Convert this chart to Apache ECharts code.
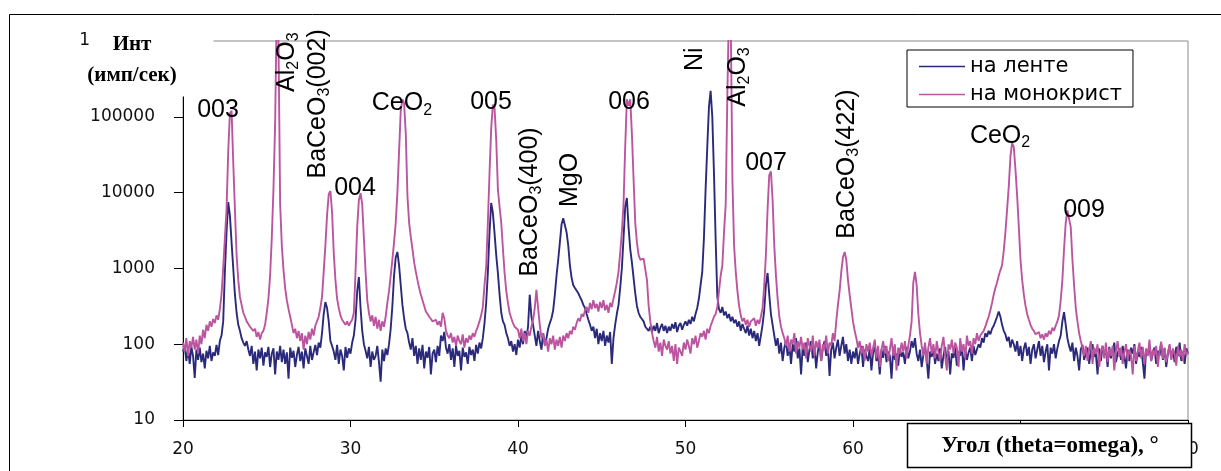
<!DOCTYPE html>
<html><head><meta charset="utf-8">
<script src="https://cdn.jsdelivr.net/npm/echarts@6/dist/echarts.min.js"></script>
<style>html,body{margin:0;padding:0;background:#fff}#c{width:1221px;height:471px}</style>
</head><body><div id="c"></div>
<script>
// Scan grid of the diffractometer (2theta, degrees)
const angleStart = 20;
const angleStep = 0.1;

const seriesNames = ['на ленте', 'на монокрист'];

// Intensity (counts/s), "на ленте", one value per 0.1 deg from 20.0 to 80.0
const tapeIntensity = [
  80, 95, 60, 88, 55, 92, 70, 36, 85, 62,
  90, 58, 75, 48, 82, 65, 95, 60, 78, 70,
  98, 72, 110, 130, 200, 900, 3000, 7500, 5000, 2200,
  1000, 450, 260, 180, 150, 120, 105, 95, 110, 85,
  70, 95, 55, 80, 45, 85, 65, 90, 52, 78,
  68, 92, 50, 75, 88, 40, 80, 62, 95, 58,
  85, 55, 78, 35, 90, 66, 82, 50, 72, 92,
  60, 80, 48, 88, 70, 55, 95, 62, 78, 98,
  72, 105, 90, 140, 250, 360, 300, 200, 110, 95,
  80, 62, 98, 55, 85, 70, 45, 92, 66, 88,
  75, 105, 130, 210, 500, 770, 300, 150, 100, 82,
  65, 92, 50, 80, 62, 70, 95, 58, 32, 85,
  60, 88, 72, 100, 160, 320, 800, 1400, 1650, 1100,
  600, 330, 220, 160, 140, 105, 85, 120, 70, 95,
  55, 88, 62, 98, 48, 80, 66, 92, 40, 75,
  85, 58, 95, 70, 130, 110, 145, 90, 75, 100,
  62, 88, 50, 95, 70, 82, 45, 90, 68, 78,
  55, 92, 72, 85, 60, 98, 75, 105, 88, 120,
  190, 350, 870, 3000, 7300, 5400, 2900, 1500, 870, 450,
  260, 200, 180, 140, 120, 95, 110, 80, 100, 72,
  115, 90, 130, 100, 150, 120, 170, 450, 230, 180,
  130, 95, 150, 110, 85, 140, 100, 120, 160, 190,
  220, 280, 450, 800, 1300, 2200, 3800, 4600, 4800, 3000,
  2000, 1100, 750, 600, 550, 520, 470, 420, 380, 330,
  300, 250, 210, 180, 150, 170, 120, 160, 100, 140,
  110, 150, 95, 130, 105, 145, 55, 120, 180, 250,
  330, 550, 1000, 2500, 6500, 8500, 3500, 1800, 1200, 750,
  470, 320, 260, 230, 240, 200, 170, 160, 150, 170,
  145, 175, 150, 190, 140, 165, 185, 150, 175, 140,
  170, 150, 185, 160, 195, 145, 175, 190, 155, 180,
  200, 175, 210, 185, 230, 200, 250, 300, 400, 600,
  900, 2500, 11000, 40000, 135000, 220000, 100000, 18000, 2400, 420,
  290, 260, 310, 240, 270, 220, 250, 200, 230, 190,
  210, 170, 200, 150, 185, 160, 140, 175, 130, 160,
  120, 150, 110, 140, 95, 130, 180, 280, 600, 870,
  450, 250, 180, 130, 95, 120, 75, 105, 60, 90,
  110, 70, 95, 55, 100, 80, 120, 65, 88, 40,
  95, 70, 105, 58, 85, 110, 65, 92, 48, 80,
  100, 60, 88, 110, 70, 95, 38, 85, 105, 65,
  90, 115, 70, 95, 125, 75, 100, 60, 85, 55,
  80, 65, 90, 55, 75, 95, 50, 85, 70, 60,
  88, 45, 78, 92, 60, 72, 40, 85, 66, 95,
  58, 80, 70, 35, 90, 62, 75, 52, 88, 68,
  78, 55, 92, 65, 80, 110, 90, 120, 75, 60,
  85, 50, 72, 95, 62, 35, 80, 68, 90, 55,
  75, 60, 88, 48, 70, 92, 58, 82, 40, 76,
  66, 90, 52, 80, 70, 95, 45, 85, 62, 78,
  90, 60, 95, 72, 85, 100, 90, 120, 105, 140,
  125, 150, 135, 160, 175, 200, 230, 270, 230, 180,
  150, 135, 110, 125, 90, 115, 100, 80, 110, 70,
  95, 60, 88, 105, 70, 92, 55, 85, 100, 65,
  85, 110, 70, 95, 58, 80, 100, 45, 90, 75,
  100, 65, 88, 110, 130, 200, 265, 180, 120, 95,
  80, 105, 60, 90, 70, 45, 85, 98, 62, 78,
  90, 55, 82, 100, 68, 75, 40, 88, 60, 95,
  72, 85, 50, 92, 65, 80, 105, 58, 76, 88,
  62, 95, 70, 48, 85, 60, 90, 75, 100, 55,
  80, 68, 92, 58, 35, 85, 72, 96, 60, 78,
  90, 55, 82, 70, 100, 62, 88, 50, 75, 95,
  65, 85, 58, 92, 70, 105, 60, 80, 55, 88,
  75
];

// Intensity (counts/s), "на монокрист", one value per 0.1 deg from 20.0 to 80.0
const crystalIntensity = [
  105, 80, 120, 70, 110, 90, 125, 85, 115, 75,
  130, 100, 155, 120, 180, 150, 200, 170, 215, 190,
  240, 210, 290, 450, 1000, 2500, 6000, 35000, 110000, 120000,
  25000, 6000, 1500, 700, 420, 330, 260, 230, 200, 185,
  170, 180, 150, 160, 125, 145, 115, 140, 150, 180,
  260, 400, 800, 2500, 11000, 80000, 3000000, 1000000, 7000, 2000,
  950, 550, 380, 290, 230, 180, 140, 160, 120, 150,
  110, 140, 85, 130, 100, 145, 115, 160, 130, 175,
  200, 230, 300, 420, 900, 2000, 5000, 9500, 10500, 5500,
  1600, 700, 400, 300, 240, 210, 195, 180, 200, 175,
  195, 210, 260, 900, 3500, 8000, 9800, 7000, 2500, 900,
  380, 260, 200, 240, 175, 230, 160, 210, 150, 200,
  170, 230, 350, 500, 800, 1300, 2200, 4000, 10000, 35000,
  120000, 170000, 150000, 60000, 9000, 4000, 2600, 1800, 1200, 900,
  700, 550, 450, 380, 320, 270, 250, 230, 215, 200,
  190, 210, 180, 200, 170, 260, 220, 150, 130, 120,
  140, 105, 125, 95, 130, 110, 100, 135, 90, 120,
  105, 130, 115, 140, 125, 150, 170, 200, 240, 310,
  600, 1050, 4000, 18000, 70000, 145000, 130000, 50000, 11000, 6500,
  4000, 1800, 870, 500, 350, 260, 220, 190, 170, 160,
  155, 120, 160, 110, 140, 100, 150, 130, 170, 210,
  300, 520, 300, 180, 120, 140, 95, 115, 80, 120,
  100, 130, 85, 115, 95, 125, 90, 130, 110, 140,
  120, 150, 135, 170, 155, 190, 220, 200, 250, 230,
  280, 310, 260, 350, 290, 380, 300, 340, 270, 360,
  300, 380, 280, 330, 260, 350, 310, 400, 500, 650,
  900, 1600, 3000, 7000, 40000, 170000, 140000, 170000, 60000, 15000,
  4000, 2200, 1500, 1300, 1250, 1350, 1300, 700, 320, 200,
  140, 110, 90, 125, 80, 105, 70, 115, 95, 85,
  110, 75, 95, 60, 100, 55, 90, 80, 70, 105,
  85, 115, 95, 75, 120, 100, 130, 90, 110, 140,
  125, 150, 115, 160, 140, 175, 200, 230, 250, 310,
  500, 800, 1100, 3000, 7000, 200000, 3000000, 2000000, 15000, 2000,
  900, 500, 320, 240, 200, 220, 180, 210, 170, 200,
  190, 220, 175, 210, 185, 230, 300, 600, 1500, 6000,
  17000, 19000, 8000, 2000, 800, 400, 230, 170, 140, 120,
  95, 130, 80, 115, 100, 140, 75, 110, 90, 125,
  85, 105, 65, 120, 95, 80, 130, 70, 110, 90,
  115, 60, 100, 85, 130, 75, 105, 95, 140, 110,
  200, 330, 500, 900, 1400, 1650, 1300, 700, 450, 300,
  200, 150, 120, 90, 110, 75, 95, 60, 100, 80,
  105, 70, 90, 115, 65, 95, 50, 85, 110, 75,
  95, 60, 85, 120, 70, 100, 45, 90, 75, 105,
  80, 110, 65, 95, 130, 200, 650, 900, 600, 250,
  140, 95, 70, 105, 55, 90, 120, 75, 100, 65,
  110, 80, 60, 95, 125, 70, 45, 100, 85, 115,
  75, 105, 90, 50, 120, 80, 100, 65, 130, 95,
  110, 75, 120, 100, 140, 110, 130, 125, 150, 170,
  200, 230, 280, 350, 450, 550, 650, 800, 950, 1100,
  1700, 3000, 6000, 12000, 30000, 45000, 40000, 20000, 9000, 3500,
  1300, 700, 450, 320, 250, 210, 180, 160, 150, 135,
  130, 145, 120, 135, 115, 140, 125, 150, 135, 165,
  150, 175, 200, 240, 380, 700, 1800, 4000, 5800, 6000,
  3500, 1300, 600, 300, 200, 140, 110, 90, 70, 95,
  60, 85, 110, 55, 90, 75, 100, 50, 80, 95,
  65, 105, 58, 88, 70, 95, 45, 82, 110, 68,
  90, 55, 78, 100, 62, 85, 72, 40, 95, 60,
  80, 105, 65, 92, 55, 88, 70, 115, 60, 85,
  70, 95, 50, 82, 108, 64, 90, 58, 76, 100,
  62, 88, 74, 52, 95, 68, 85, 60, 100, 72,
  80
];

// Peak annotations: text (rich markup for subscripts), angle, intensity, vertical?
const peakLabelText = ['003', 'Al{s|2}O{s|3}', 'BaCeO{s|3}(002)', '004', 'CeO{s|2}', '005',
  'BaCeO{s|3}(400)', 'MgO', '006', 'Ni', 'Al{s|2}O{s|3}', '007', 'BaCeO{s|3}(422)', 'CeO{s|2}', '009'];
const peakLabelAngle = [22.09, 26.21, 28.06, 30.27, 33.07, 38.39, 40.72, 43.10, 46.63, 50.57, 53.13, 54.81, 59.64, 68.78, 73.79];
const peakLabelIntensity = [123000, 525000, 148000, 11500, 151000, 157000, 7520, 14700, 157000, 575000, 335000, 24500, 23800, 55800, 5880];
const peakLabelVertical = [false, true, true, false, false, false, true, true, false, true, true, false, true, false, false];

const yAxisTitle = ['Инт', '(имп/сек)'];
const xAxisTitle = 'Угол (theta=omega), °';

const BLUE = '#2b2a7a';
const MAGENTA = '#bb55a0';
const AX_FONT = '"DejaVu Sans", sans-serif';
const LBL_FONT = '"Liberation Sans", Arial, sans-serif';
const TITLE_FONT = '"Liberation Serif", "Times New Roman", serif';

function toPairs(arr) {
  return arr.map((v, i) => [Math.round((angleStart + i * angleStep) * 10) / 10, v]);
}

const chart = echarts.init(document.getElementById('c'), null, { renderer: 'canvas' });
chart.setOption({
  animation: false,
  backgroundColor: '#fff',
  grid: { left: 183, right: 33, top: 41, bottom: 51, show: true, borderColor: '#8a8a8a', borderWidth: 1, backgroundColor: 'transparent' },
  xAxis: {
    type: 'value', min: 20, max: 80, interval: 10,
    axisLine: { show: true, lineStyle: { color: '#000', width: 1 } },
    axisTick: { show: true, inside: false, length: 7, lineStyle: { color: '#000' } },
    axisLabel: { margin: 21, fontSize: 17, fontFamily: AX_FONT, color: '#111' },
    splitLine: { show: false }
  },
  yAxis: {
    type: 'log', logBase: 10, min: 10, max: 1000000,
    axisLine: { show: true, lineStyle: { color: '#000', width: 1 } },
    axisTick: { show: true, inside: false, length: 9, lineStyle: { color: '#000' } },
    axisLabel: { margin: 28, fontSize: 17, fontFamily: AX_FONT, color: '#111', formatter: v => String(Math.round(v)) },
    splitLine: { show: false },
    minorTick: { show: false }
  },
  legend: {
    data: seriesNames, orient: 'vertical', left: 907, top: 50,
    icon: 'rect', itemWidth: 46, itemHeight: 1.5, itemGap: 7,
    padding: [6, 11, 2, 12], borderColor: '#000', borderWidth: 1, backgroundColor: '#fff',
    selectedMode: false,
    textStyle: { fontFamily: AX_FONT, fontSize: 21, color: '#000', width: 190 }
  },
  series: [
    {
      name: seriesNames[0], type: 'line', data: toPairs(tapeIntensity),
      symbol: 'none', showSymbol: false, color: BLUE,
      itemStyle: { color: BLUE }, lineStyle: { color: BLUE, width: 1.9 }, z: 2
    },
    {
      name: seriesNames[1], type: 'line', data: toPairs(crystalIntensity),
      symbol: 'none', showSymbol: false, color: MAGENTA,
      itemStyle: { color: MAGENTA }, lineStyle: { color: MAGENTA, width: 1.9 }, z: 3
    },
    {
      type: 'scatter', silent: true, z: 5, symbolSize: 1,
      itemStyle: { color: '#000', opacity: 0 },
      data: peakLabelAngle.map((a, i) => ({
        value: [a, peakLabelIntensity[i]],
        label: { rotate: peakLabelVertical[i] ? 90 : 0 }
      })),
      label: {
        show: true, position: 'inside', opacity: 1,
        formatter: p => peakLabelText[p.dataIndex],
        fontFamily: LBL_FONT, fontSize: 25, color: '#000', lineHeight: 30,
        textBorderWidth: 0, textShadowBlur: 0,
        rich: { s: { fontFamily: LBL_FONT, fontSize: 16, lineHeight: 14, verticalAlign: 'bottom', color: '#000', textBorderWidth: 0 } }
      }
    }
  ],
  graphic: [
    { type: 'rect', silent: true, z: 100, shape: { x: 9.5, y: 14.5, width: 1400, height: 600 }, style: { fill: 'none', stroke: '#000', lineWidth: 1 } },
    { type: 'rect', silent: true, z: 100, shape: { x: 89, y: 20, width: 124.5, height: 40 }, style: { fill: '#fff' } },
    { type: 'rect', silent: true, z: 100, shape: { x: 60, y: 55, width: 153.5, height: 41.5 }, style: { fill: '#fff' } },
    { type: 'text', silent: true, z: 101, x: 132, y: 45, style: { text: yAxisTitle[0], font: 'bold 21px ' + TITLE_FONT, fill: '#000', align: 'center', verticalAlign: 'middle' } },
    { type: 'text', silent: true, z: 101, x: 132, y: 76, style: { text: yAxisTitle[1], font: 'bold 21px ' + TITLE_FONT, fill: '#000', align: 'center', verticalAlign: 'middle' } },
    { type: 'rect', silent: true, z: 100, shape: { x: 907.5, y: 423.5, width: 284, height: 44 }, style: { fill: '#fff', stroke: '#000', lineWidth: 1.5 } },
    { type: 'text', silent: true, z: 101, x: 1050, y: 446, style: { text: xAxisTitle, font: 'bold 23px ' + TITLE_FONT, fill: '#000', align: 'center', verticalAlign: 'middle' } }
  ]
});
</script>
</body></html>
